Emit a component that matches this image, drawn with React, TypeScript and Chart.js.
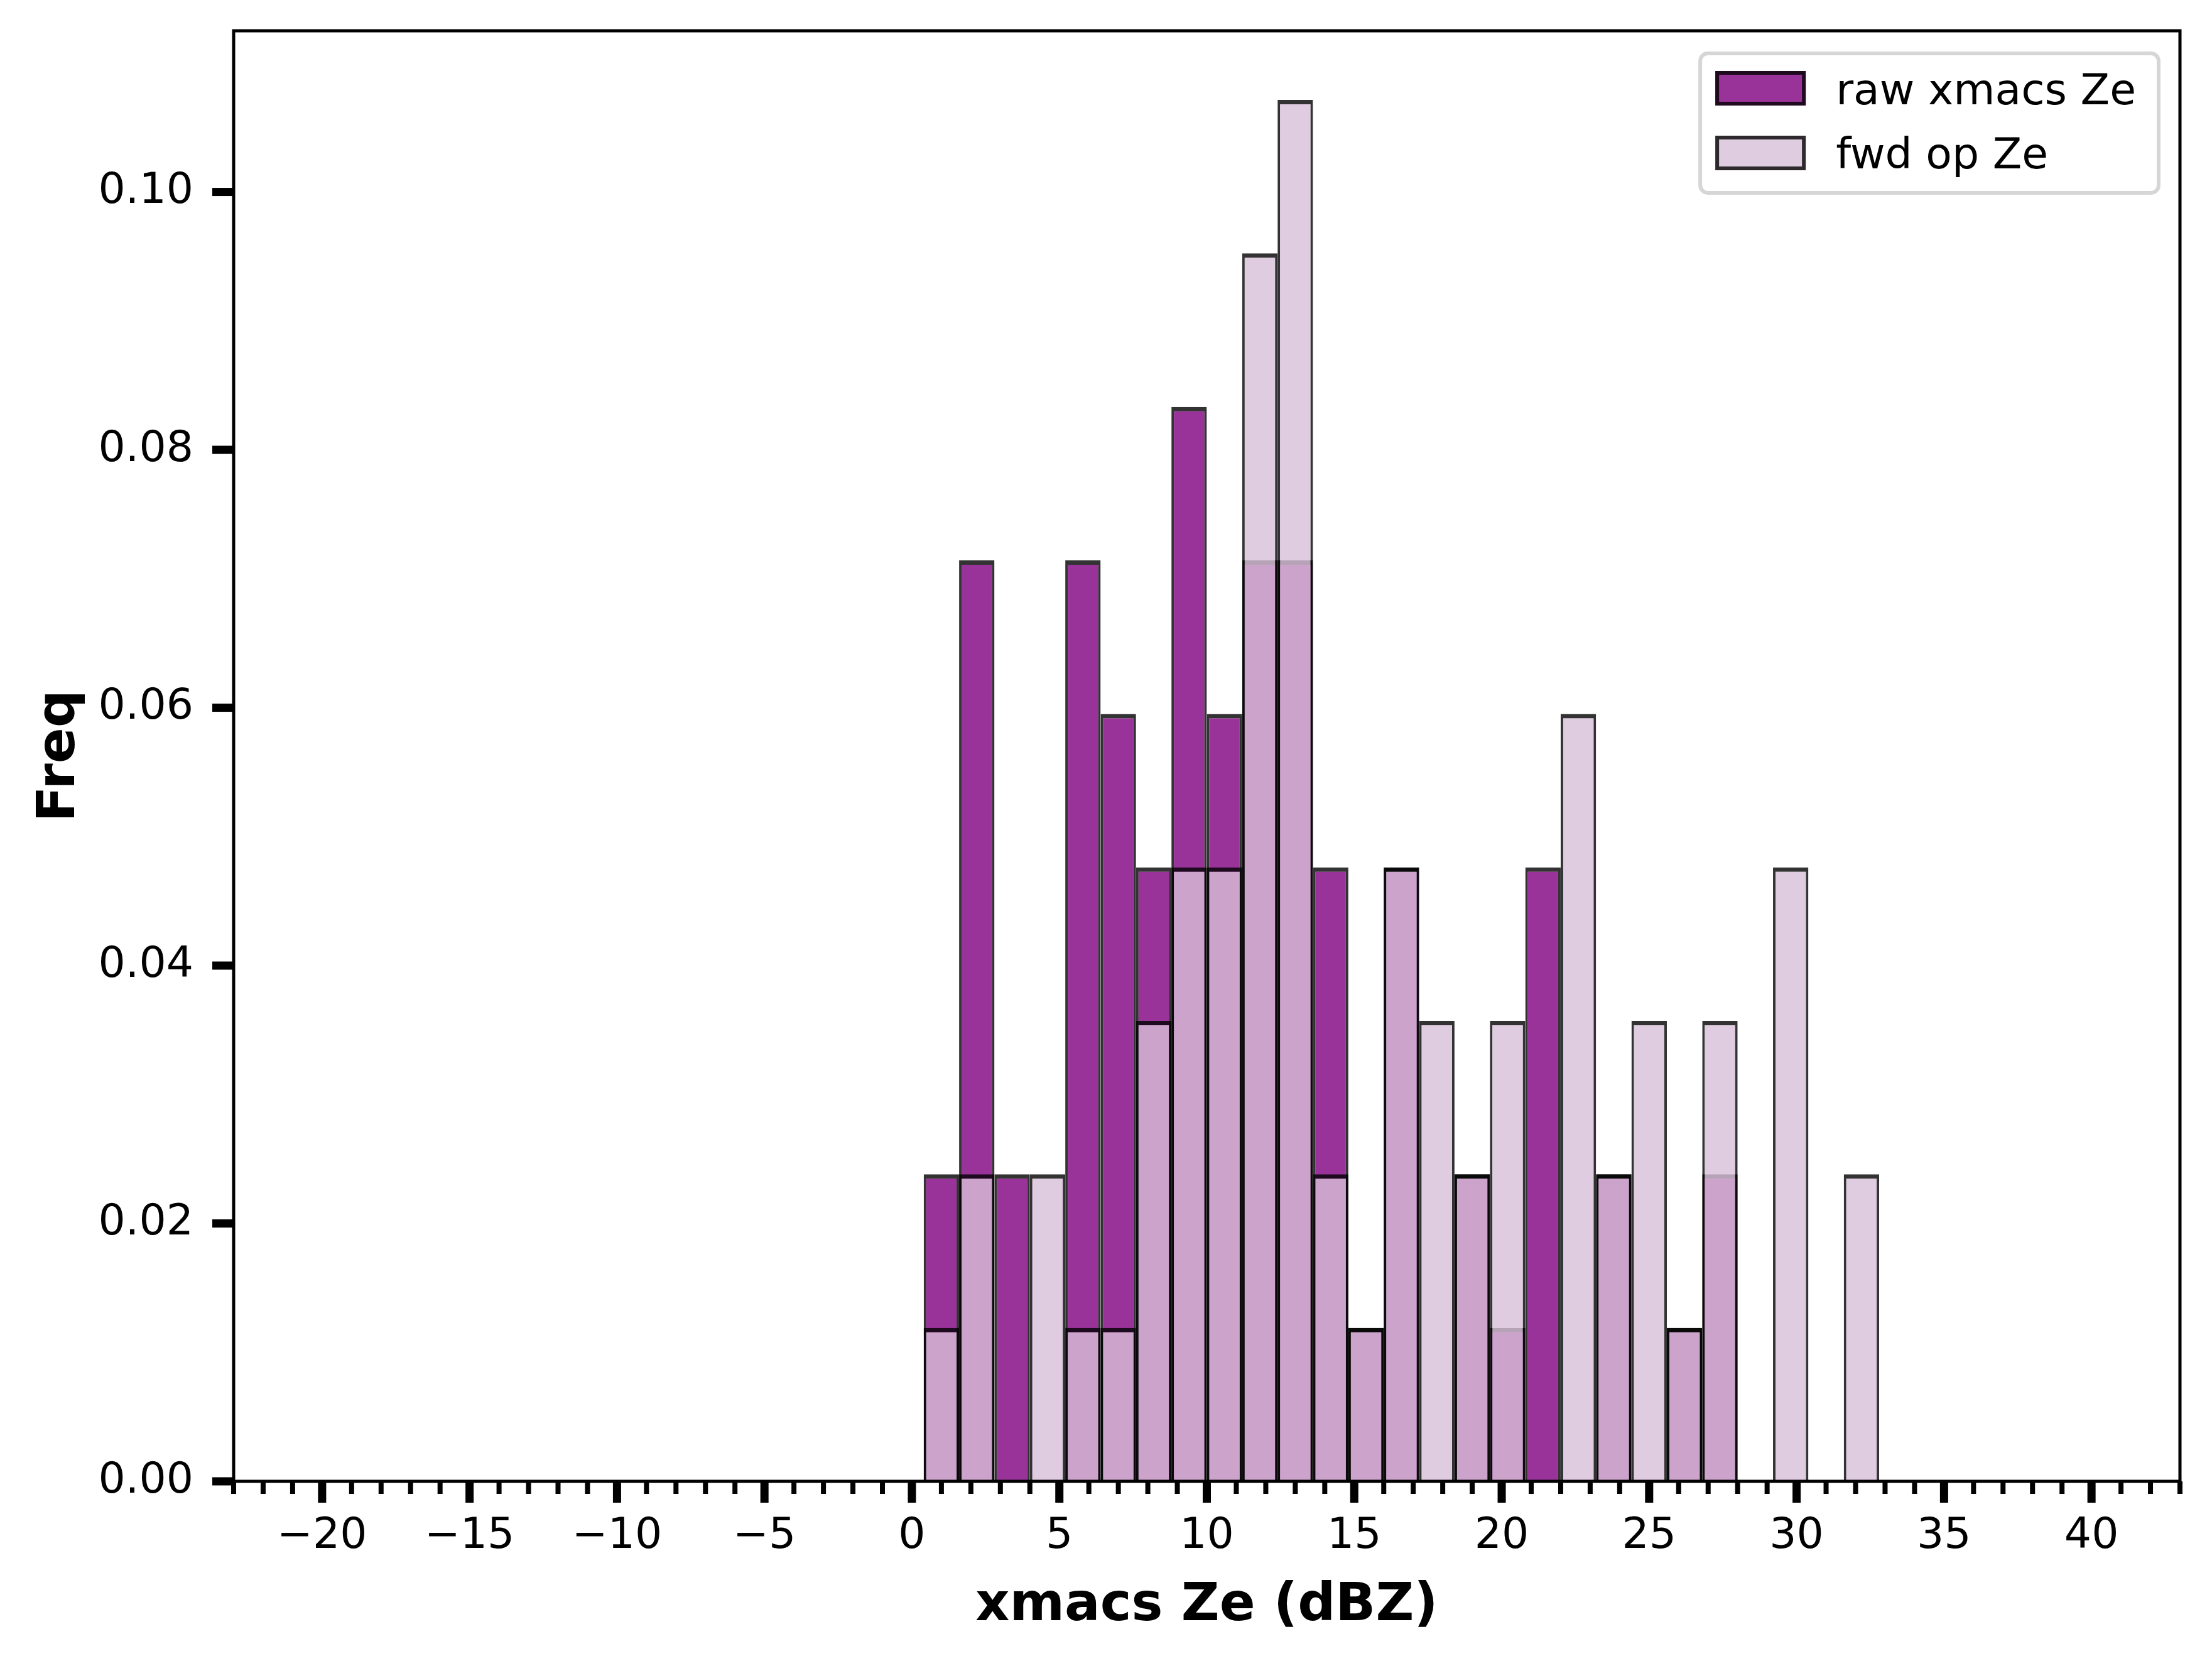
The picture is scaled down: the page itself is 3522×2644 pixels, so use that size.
import { useEffect, useRef } from 'react'
import { Chart, registerables } from 'chart.js'

Chart.register(...registerables)

// histogram bins (bin width 1.2 dBZ), density-normalised frequencies
const binCenters = [
  1.0, 2.2, 3.4, 4.6, 5.8, 7.0, 8.2, 9.4, 10.6, 11.8, 13.0, 14.2, 15.4, 16.6,
  17.8, 19.0, 20.2, 21.4, 22.6, 23.8, 25.0, 26.2, 27.4, 28.6, 29.8, 31.0, 32.2,
]
const rawFreq = [
  0.02381, 0.07143, 0.02381, 0, 0.07143, 0.05952, 0.04762, 0.08333, 0.05952,
  0.07143, 0.07143, 0.04762, 0.0119, 0.04762, 0, 0.02381, 0.0119, 0.04762, 0,
  0.02381, 0, 0.0119, 0.02381, 0, 0, 0, 0,
]
const fwdFreq = [
  0.0119, 0.02381, 0, 0.02381, 0.0119, 0.0119, 0.03571, 0.04762, 0.04762,
  0.09524, 0.10714, 0.02381, 0.0119, 0.04762, 0.03571, 0.02381, 0.03571, 0,
  0.05952, 0.02381, 0.03571, 0.0119, 0.03571, 0, 0.04762, 0, 0.02381,
]
const seriesLabels = ['raw xmacs Ze', 'fwd op Ze']

const xTicks = [-20, -15, -10, -5, 0, 5, 10, 15, 20, 25, 30, 35, 40]
const yTicks = [0, 0.02, 0.04, 0.06, 0.08, 0.1]
const xRange = [-23, 43]
const yRange = [0, 0.1125]

const W = 3522
const H = 2644
const FONT = "'DejaVu Sans', sans-serif"

// spines + matplotlib-like outward ticks (major and minor)
const framePlugin = {
  id: 'frame',
  afterDraw(chart: any) {
    const { ctx, chartArea } = chart
    const { left, right, top, bottom } = chartArea
    const xs = chart.scales.x
    const ys = chart.scales.y
    ctx.save()
    ctx.fillStyle = '#000'
    for (let v = Math.ceil(xs.min); v <= xs.max; v++) {
      const major = v % 5 === 0
      const px = xs.getPixelForValue(v)
      const w = major ? 13 : 8
      const len = major ? 34 : 20
      ctx.fillRect(px - w / 2, bottom, w, len)
    }
    yTicks.forEach((v) => {
      const py = ys.getPixelForValue(v)
      ctx.fillRect(left - 34, py - 6.5, 34, 13)
    })
    ctx.strokeStyle = '#000'
    ctx.lineWidth = 5
    ctx.strokeRect(left, top, right - left, bottom - top)
    ctx.restore()
  },
}

// legend box inside the upper right corner
const legendPlugin = {
  id: 'boxLegend',
  afterDraw(chart: any) {
    const { ctx, chartArea } = chart
    const sets = chart.data.datasets
    ctx.save()
    ctx.font = `68px ${FONT}`
    const textW = Math.max(...sets.map((d: any) => ctx.measureText(d.label).width))
    const bw = 216 + textW + 36
    const bh = 222
    const bx = chartArea.right - 34 - bw
    const by = chartArea.top + 36
    ctx.beginPath()
    ctx.roundRect(bx, by, bw, bh, 12)
    ctx.fillStyle = 'rgba(255,255,255,0.8)'
    ctx.fill()
    ctx.lineWidth = 6
    ctx.strokeStyle = 'rgba(204,204,204,0.8)'
    ctx.stroke()
    sets.forEach((d: any, i: number) => {
      const py = by + 28 + i * 103
      ctx.fillStyle = d.backgroundColor
      ctx.fillRect(bx + 24, py, 144, 55)
      ctx.lineWidth = 6
      ctx.strokeStyle = d.borderColor
      ctx.strokeRect(bx + 27, py + 3, 138, 49)
      ctx.fillStyle = '#000'
      ctx.textBaseline = 'alphabetic'
      ctx.textAlign = 'left'
      ctx.fillText(d.label, bx + 216, by + 81 + i * 102)
    })
    ctx.restore()
  },
}

const barStyle = {
  borderColor: 'rgba(0,0,0,0.8)',
  borderWidth: { left: 4, right: 4, top: 7, bottom: 0 },
  borderSkipped: 'start',
  grouped: false,
  barPercentage: 1,
  categoryPercentage: 1,
  inflateAmount: 0,
}

const App = () => {
  const canvasRef = useRef<HTMLCanvasElement>(null)
  const chartRef = useRef<Chart | null>(null)

  useEffect(() => {
    if (!canvasRef.current) return
    chartRef.current = new Chart(canvasRef.current, {
      type: 'bar',
      data: {
        datasets: [
          {
            ...barStyle,
            label: seriesLabels[0],
            data: binCenters.map((x, i) => ({ x, y: rawFreq[i] })),
            backgroundColor: 'rgba(128,0,128,0.8)',
            order: 1,
          },
          {
            ...barStyle,
            label: seriesLabels[1],
            data: binCenters.map((x, i) => ({ x, y: fwdFreq[i] })),
            backgroundColor: 'rgba(216,191,216,0.8)',
            order: 0,
          },
        ],
      } as any,
      options: {
        animation: false,
        responsive: false,
        devicePixelRatio: 1,
        layout: { padding: { left: 0, top: 49, right: 51, bottom: 0 } },
        plugins: { legend: { display: false }, tooltip: { enabled: false } },
        scales: {
          x: {
            type: 'linear',
            min: xRange[0],
            max: xRange[1],
            offset: false,
            grid: { display: false, drawTicks: false },
            border: { display: false },
            afterBuildTicks: (s: any) => {
              s.ticks = xTicks.map((value) => ({ value }))
            },
            afterFit: (s: any) => {
              s.height = 286
              s.paddingLeft = 0
              s.paddingRight = 0
            },
            ticks: {
              padding: 48,
              autoSkip: false,
              maxRotation: 0,
              color: '#000',
              font: { family: FONT, size: 68 },
              callback: (v: any) => (v < 0 ? '\u2212' + Math.abs(v) : String(v)),
            },
            title: {
              display: true,
              text: 'xmacs Ze (dBZ)',
              color: '#000',
              font: { family: FONT, size: 84, weight: 'bold' },
              padding: { top: 0, bottom: 36 },
            },
          },
          y: {
            type: 'linear',
            min: yRange[0],
            max: yRange[1],
            grid: { display: false, drawTicks: false },
            border: { display: false },
            afterBuildTicks: (s: any) => {
              s.ticks = yTicks.map((value) => ({ value }))
            },
            afterFit: (s: any) => {
              s.width = 372
              s.paddingTop = 0
              s.paddingBottom = 0
            },
            ticks: {
              padding: 64,
              autoSkip: false,
              color: '#000',
              font: { family: FONT, size: 68 },
              callback: (v: any) => Number(v).toFixed(2),
            },
            title: {
              display: true,
              text: 'Freq',
              color: '#000',
              font: { family: FONT, size: 84, weight: 'bold' },
              padding: { top: 46, bottom: 0 },
            },
          },
        },
      } as any,
      plugins: [framePlugin, legendPlugin],
    })
    return () => {
      chartRef.current?.destroy()
    }
  }, [])

  return (
    <div style={{ position: 'fixed', left: 0, top: 0, width: W, height: H, background: '#fff' }}>
      <canvas ref={canvasRef} width={W} height={H} style={{ display: 'block', width: W, height: H }} />
    </div>
  )
}

export default App
